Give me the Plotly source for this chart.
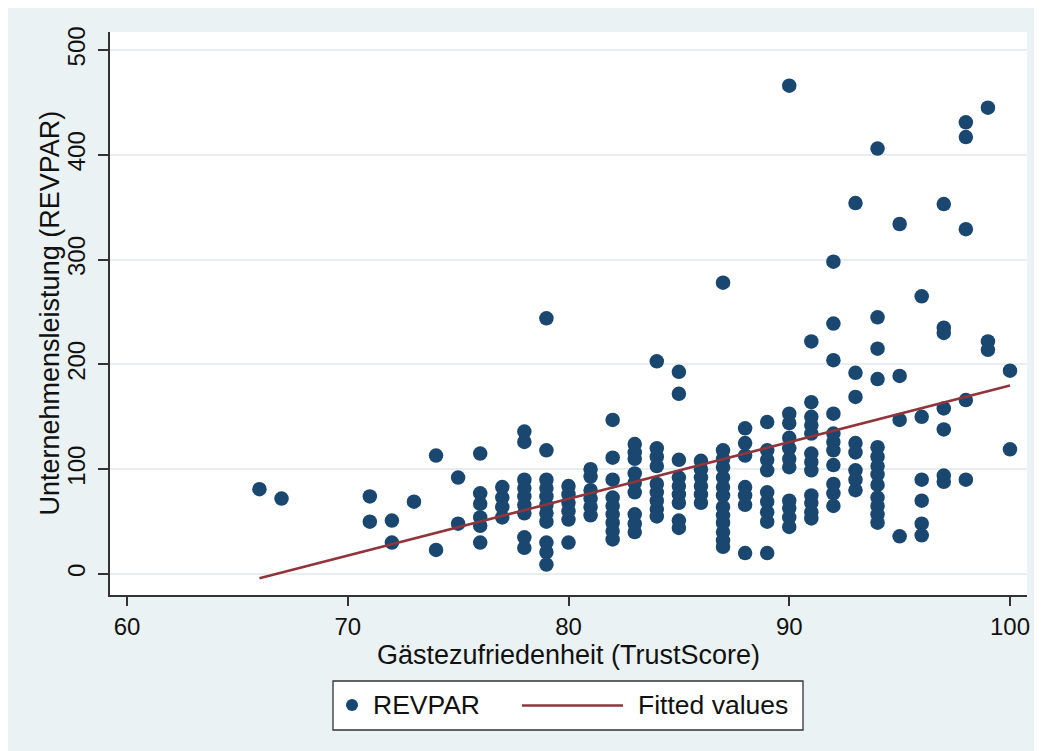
import plotly.graph_objects as go

# ---------------- data ----------------
trust_score = (
    [66] + [67] + [71] * 2 + [72] * 2 + [73] + [74] * 2 + [75] * 2
    + [76] * 6 + [77] * 4 + [78] * 9 + [79] * 11 + [80] * 6 + [81] * 6
    + [82] * 9 + [83] * 9 + [84] * 9 + [85] * 9 + [86] * 6 + [87] * 13
    + [88] * 7 + [89] * 9 + [90] * 11 + [91] * 12 + [92] * 11 + [93] * 8
    + [94] * 13 + [95] * 4 + [96] * 6 + [97] * 7 + [98] * 5 + [99] * 3
    + [100] * 2
)
revpar = [
    81,                                            # 66
    72,                                            # 67
    74, 50,                                        # 71
    51, 30,                                        # 72
    69,                                            # 73
    113, 23,                                       # 74
    92, 48,                                        # 75
    115, 77, 67, 54, 46, 30,                       # 76
    83, 73, 64, 54,                                # 77
    136, 126, 90, 82, 74, 66, 58, 35, 25,          # 78
    244, 118, 90, 82, 74, 66, 58, 50, 30, 21, 9,   # 79
    84, 76, 68, 60, 52, 30,                        # 80
    100, 93, 80, 72, 64, 56,                       # 81
    147, 111, 90, 73, 65, 57, 49, 41, 33,          # 82
    124, 116, 110, 96, 87, 78, 57, 48, 40,         # 83
    203, 120, 112, 103, 86, 78, 70, 62, 55,        # 84
    193, 172, 109, 92, 84, 76, 68, 51, 44,         # 85
    108, 100, 92, 84, 76, 68,                      # 86
    278, 118, 110, 102, 92, 83, 75, 64, 56, 49, 40, 32, 26,   # 87
    139, 125, 113, 83, 75, 66, 20,                 # 88
    145, 118, 109, 99, 78, 69, 59, 50, 20,         # 89
    466, 153, 144, 130, 120, 110, 102, 70, 63, 54, 45,        # 90
    222, 164, 150, 142, 134, 115, 107, 99, 75, 68, 59, 53,    # 91
    298, 239, 204, 153, 134, 126, 118, 104, 86, 77, 65,       # 92
    354, 192, 169, 125, 116, 99, 90, 80,           # 93
    406, 245, 215, 186, 121, 112, 103, 95, 85, 73, 65, 57, 49,  # 94
    334, 189, 147, 36,                             # 95
    265, 150, 90, 70, 48, 37,                      # 96
    353, 235, 230, 158, 138, 94, 88,               # 97
    431, 417, 329, 166, 90,                        # 98
    445, 222, 214,                                 # 99
    194, 119,                                      # 100
]

fitted_x = [66, 100]
fitted_y = [-4, 180]

x_ticks = [60, 70, 80, 90, 100]
y_ticks = [0, 100, 200, 300, 400, 500]

series_names = ["REVPAR", "Fitted values"]
x_title = "Gästezufriedenheit (TrustScore)"
y_title = "Unternehmensleistung (REVPAR)"

# ---------------- style ----------------
NAVY = "#1a476f"
MAROON = "#90353b"
BG = "#eaf2f3"
GRID = "#e6eef0"
AXIS = "#333333"
TXT = "#111111"
FONT = "Arial, 'Liberation Sans', sans-serif"

OFF = 8                      # page body margin of the html page
W, H = 1042 - OFF, 751 - OFF
L, R, T, B = 110 - OFF, 1027 - OFF, 32 - OFF, 595 - OFF   # plot area (figure px)


def px(xs):
    """screen x pixel -> paper coordinate"""
    return (xs - OFF - L) / (R - L)


def py(ys):
    """screen y pixel -> paper coordinate"""
    return (B - (ys - OFF)) / (B - T)


fig = go.Figure()

fig.add_trace(go.Scatter(
    x=trust_score, y=revpar, mode="markers", name=series_names[0],
    marker=dict(color=NAVY, size=14.5, line=dict(width=0)),
    showlegend=False,
))
fig.add_trace(go.Scatter(
    x=fitted_x, y=fitted_y, mode="lines", name=series_names[1],
    line=dict(color=MAROON, width=2.6),
    showlegend=False,
))

shapes = [
    # legend box
    dict(type="rect", xref="paper", yref="paper", layer="above",
         x0=px(333), x1=px(803), y0=py(730), y1=py(681),
         fillcolor="white", line=dict(color=AXIS, width=1.3)),
    # legend marker
    dict(type="circle", xref="paper", yref="paper", layer="above",
         x0=px(346), x1=px(358), y0=py(711), y1=py(699),
         fillcolor=NAVY, line=dict(width=0)),
    # legend line
    dict(type="line", xref="paper", yref="paper", layer="above",
         x0=px(522), x1=px(623), y0=py(705.5), y1=py(705.5),
         line=dict(color=MAROON, width=2.6)),
]

annotations = [
    dict(text=series_names[0], xref="paper", yref="paper",
         x=px(371), y=py(705), xanchor="left", yanchor="middle",
         showarrow=False, font=dict(size=26.5, color=TXT, family=FONT)),
    dict(text=series_names[1], xref="paper", yref="paper",
         x=px(636), y=py(705), xanchor="left", yanchor="middle",
         showarrow=False, font=dict(size=26.5, color=TXT, family=FONT)),
    # y-axis title
    dict(text=y_title, xref="paper", yref="paper",
         x=px(49), y=0.5, xanchor="center", yanchor="middle",
         textangle=-90, showarrow=False,
         font=dict(size=27, color=TXT, family=FONT)),
]

fig.update_layout(
    width=W, height=H,
    margin=dict(l=L, r=W - R, t=T, b=H - B, pad=0),
    paper_bgcolor=BG,
    plot_bgcolor="white",
    font=dict(family=FONT, color=TXT),
    showlegend=False,
    shapes=shapes,
    annotations=annotations,
    xaxis=dict(
        range=[59.23, 100.77], tickvals=x_ticks,
        showgrid=False, zeroline=False,
        showline=True, linecolor=AXIS, linewidth=1.5,
        ticks="outside", ticklen=9, tickwidth=1.5, tickcolor=AXIS,
        tickfont=dict(size=24, family=FONT, color=TXT),
        title=dict(text=x_title, font=dict(size=27, family=FONT, color=TXT),
                   standoff=6),
    ),
    yaxis=dict(
        range=[-20.0, 517.2], tickvals=y_ticks,
        showgrid=True, gridcolor=GRID, gridwidth=2,
        zeroline=False,
        showline=True, linecolor=AXIS, linewidth=1.5,
        ticks="outside", ticklen=10, tickwidth=1.5, tickcolor=AXIS,
        tickangle=-90, ticklabelstandoff=4,
        tickfont=dict(size=24, family=FONT, color=TXT),
    ),
)

fig.write_html("out.html")
